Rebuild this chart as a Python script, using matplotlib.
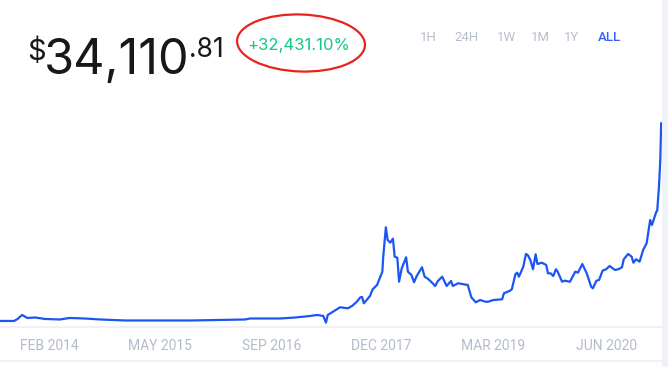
import numpy as np
import matplotlib
matplotlib.use('Agg')
import matplotlib.pyplot as plt
from matplotlib.patches import Ellipse, Rectangle
from matplotlib.lines import Line2D

###############################
# Data

years = [2013.53, 2013.69, 2013.73, 2013.78, 2013.84, 2013.93, 2014.04, 2014.21, 2014.32, 2014.49,
         2014.67, 2014.95, 2015.35, 2015.69, 2016.03, 2016.31, 2016.37, 2016.71, 2016.88, 2016.94,
         2017.05, 2017.13, 2017.20, 2017.23, 2017.25, 2017.31, 2017.39, 2017.45, 2017.48, 2017.53,
         2017.58, 2017.62, 2017.64, 2017.66, 2017.73, 2017.76, 2017.81, 2017.87, 2017.88, 2017.91,
         2017.93, 2017.96, 2017.99, 2018.01, 2018.04, 2018.06, 2018.09, 2018.14, 2018.16, 2018.20,
         2018.23, 2018.26, 2018.32, 2018.35, 2018.39, 2018.43, 2018.47, 2018.50, 2018.55, 2018.60,
         2018.65, 2018.67, 2018.73, 2018.84, 2018.88, 2018.90, 2018.93, 2018.98, 2019.04, 2019.07,
         2019.13, 2019.23, 2019.25, 2019.32, 2019.34, 2019.38, 2019.40, 2019.42, 2019.47, 2019.50,
         2019.52, 2019.55, 2019.58, 2019.61, 2019.63, 2019.68, 2019.73, 2019.75, 2019.78, 2019.81,
         2019.84, 2019.86, 2019.91, 2019.94, 2020.00, 2020.06, 2020.09, 2020.14, 2020.19, 2020.24,
         2020.26, 2020.30, 2020.33, 2020.37, 2020.41, 2020.45, 2020.51, 2020.55, 2020.59, 2020.61,
         2020.66, 2020.70, 2020.72, 2020.75, 2020.79, 2020.83, 2020.87, 2020.91, 2020.93, 2020.98,
         2020.99, 2021.01, 2021.025, 2021.035]

prices = [430, 430, 770, 1450, 940, 1020, 770, 680, 940, 850,
          680, 510, 510, 510, 600, 680, 850, 850, 1020, 1110,
          1280, 1450, 1280, 140, 1450, 2010, 2760, 2640, 2590, 3030,
          3710, 4460, 4520, 3440, 4690, 5830, 6560, 8830, 11380, 16390,
          14230, 13770, 14450, 11380, 11210, 7120, 9410, 11280, 8830, 8260,
          7020, 8090, 9580, 7970, 7580, 7020, 6390, 7240, 7970, 6390,
          7240, 6390, 6850, 6560, 4460, 4120, 3610, 4000, 3710, 3710,
          4000, 4120, 5150, 5590, 5830, 8380, 8660, 7970, 9680, 11840,
          11670, 10820, 9240, 11790, 10140, 10360, 9970, 8550, 8550, 8090,
          9240, 8830, 7120, 7290, 7120, 8830, 8660, 10140, 8550, 6270,
          6000, 7290, 7410, 9000, 9240, 9800, 9120, 9240, 9580, 10940,
          11840, 11380, 10360, 10940, 10530, 12520, 13670, 17640, 16780, 19050,
          19220, 23310, 27860, 34110.81]

# tick positions as they sit on the axis (fractional years)
tick_years = [2014.09, 2015.34, 2016.61, 2017.86, 2019.13, 2020.42]
tick_labels = ['FEB 2014', 'MAY 2015', 'SEP 2016', 'DEC 2017', 'MAR 2019', 'JUN 2020']

ranges = ['1H', '24H', '1W', '1M', '1Y', 'ALL']
selected_range = 'ALL'

price_main = '34,110'
price_cents = '.81'
change_text = '+32,431.10%'

###############################
# Style

plt.rcParams['font.family'] = ['Roboto', 'DejaVu Sans']
lineColor = '#1c56f2'
grayText = '#b3bccb'
borderColor = '#eceff3'

W, H = 668, 367
fig = plt.figure(figsize=(W / 100, H / 100), dpi=100)
fig.patch.set_facecolor('white')

# chart area: x pixels 0..662, y pixels 110..327 (from top)
ax = fig.add_axes([0, (H - 327) / H, 662 / W, (327 - 110) / H])
ax.plot(years, prices, color=lineColor, lw=1.6, solid_joinstyle='round')

x0 = 2013.53
ax.set_xlim(x0, x0 + 662 * 0.011351)
ax.set_ylim(-600, 36380)

ax.set_xticks(tick_years)
ax.set_xticklabels(tick_labels, fontsize=10, color=grayText)
ax.tick_params(axis='x', length=0, pad=9)
ax.set_yticks([])
for side in ['top', 'left', 'right']:
    ax.spines[side].set_visible(False)
ax.spines['bottom'].set_color(borderColor)
ax.spines['bottom'].set_linewidth(1.2)
ax.set_facecolor('none')

# lower separator and right border strip
fig.add_artist(Line2D([0, 662 / W], [(H - 361) / H] * 2, color=borderColor, lw=1.2))
fig.add_artist(Rectangle((662 / W, 0), 6 / W, 1, color='#eff2f6', lw=0))

# price header
bigFont = ['Inter', 'Roboto', 'DejaVu Sans']
fig.text(27 / W, (H - 60) / H, '$', fontsize=21, color='#17181b', family=bigFont, va='baseline')
fig.text(44 / W, (H - 74) / H, price_main, fontsize=35, color='#17181b', family=bigFont, va='baseline')
fig.text(189 / W, (H - 57) / H, price_cents, fontsize=19, color='#17181b', family=bigFont, va='baseline')
fig.text(247 / W, (H - 50) / H, change_text, fontsize=12, color='#16c784', family=bigFont, va='baseline')

# red hand-drawn circle around the change
fig.add_artist(Ellipse((3.01, (H - 43) / 100), 1.28, 0.57, angle=-2,
                       transform=fig.dpi_scale_trans, fill=False, ec='#e8231b', lw=1.6))

# range buttons
btn_x = [428, 467, 506, 540, 572, 609]
for label, bx in zip(ranges, btn_x):
    sel = label == selected_range
    fig.text(bx / W, (H - 37.5) / H, label, fontsize=9.5, ha='center', va='center',
             color='#3861fb' if sel else '#b6bfcd', weight='medium' if sel else 'normal')

fig.savefig('out.png', dpi=100)
